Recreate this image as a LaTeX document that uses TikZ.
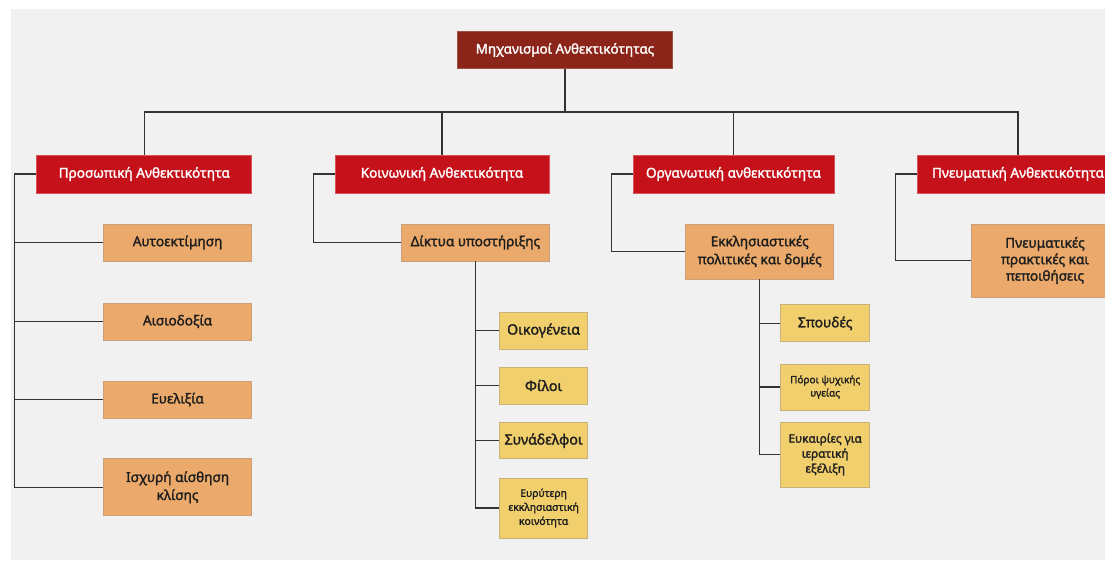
\documentclass[tikz,border=0pt]{standalone}
\usepackage{fontspec}
\setmainfont{Noto Sans}[RawFeature={embolden=1.8}]
\usetikzlibrary{calc}
\definecolor{bggray}{HTML}{F1F1F1}
\definecolor{rootred}{HTML}{8B2519}
\definecolor{lvred}{HTML}{C4111A}
\definecolor{lvredb}{HTML}{D9545A}
\definecolor{orbox}{HTML}{EBAA6B}
\definecolor{orboxb}{HTML}{C9A07A}
\definecolor{yebox}{HTML}{F1CF6D}
\definecolor{yeboxb}{HTML}{C9B27A}
\definecolor{linec}{HTML}{333333}
\definecolor{txtc}{HTML}{1E1E1E}
\tikzset{
  box/.style={rectangle, align=center, inner sep=1pt, line width=0.8pt},
  rootbox/.style={box, fill=rootred, draw=rootred!80!white, text=white, font=\fontsize{13.4}{16}\selectfont},
  lonebox/.style={box, fill=lvred, draw=lvredb, text=white, font=\fontsize{13.6}{16}\selectfont, minimum height=38},
  ltwobox/.style={box, fill=orbox, draw=orboxb, text=txtc, font=\fontsize{13.6}{18}\selectfont, minimum width=148},
  lthreebox/.style={box, fill=yebox, draw=yeboxb, text=txtc, font=\fontsize{14.2}{16}\selectfont, minimum width=88},
  conn/.style={draw=linec, line width=1.1pt}
}
\begin{document}
\begin{tikzpicture}[x=1pt,y=-1pt]
\useasboundingbox (0,0) rectangle (1105,560);
\fill[white] (0,0) rectangle (1105,560);
\fill[bggray] (11,9) rectangle (1105,560);

% root
\node[rootbox, minimum width=215, minimum height=37] (root) at (565,50) {Μηχανισμοί Ανθεκτικότητας};
\coordinate (bus) at (565,112);

% level 1
\node[lonebox, minimum width=215] (p1) at (144.3,174) {Προσωπική Ανθεκτικότητα};
\node[lonebox, minimum width=214] (p2) at (442,174) {Κοινωνική Ανθεκτικότητα};
\node[lonebox, minimum width=201] (p3) at (733.5,174) {Οργανωτική ανθεκτικότητα};
\node[lonebox, minimum width=201] (p4) at (1018,174) {Πνευματική Ανθεκτικότητα};

% level 2
\node[ltwobox, minimum height=37] (a1) at (177.6,242.5) {Αυτοεκτίμηση};
\node[ltwobox, minimum height=37] (a2) at (177.6,321.4) {Αισιοδοξία};
\node[ltwobox, minimum height=37] (a3) at (177.6,399.5) {Ευελιξία};
\node[ltwobox, minimum height=57] (a4) at (177.6,487.3) {Ισχυρή αίσθηση\\κλίσης};

\node[ltwobox, minimum height=37] (b1) at (475.4,242.5) {Δίκτυα υποστήριξης};
\node[ltwobox, minimum height=55] (c1) at (759.7,251.5) {Εκκλησιαστικές\\πολιτικές και δομές};
\node[ltwobox, minimum height=73, font=\fontsize{13.6}{16.5}\selectfont] (d1) at (1045,260.5) {Πνευματικές\\πρακτικές και\\πεποιθήσεις};

% level 3 under social
\node[lthreebox, minimum height=37] (b2) at (543.6,330.5) {Οικογένεια};
\node[lthreebox, minimum height=37] (b3) at (543.6,385.5) {Φίλοι};
\node[lthreebox, minimum height=36] (b4) at (543.6,440.7) {Συνάδελφοι};
\node[lthreebox, minimum height=60, font=\fontsize{10.4}{14}\selectfont] (b5) at (543.6,508) {Ευρύτερη\\εκκλησιαστική\\κοινότητα};

% level 3 under organisational
\node[lthreebox, minimum width=89, minimum height=37, font=\fontsize{13.8}{16}\selectfont] (c2) at (825.2,323.3) {Σπουδές};
\node[lthreebox, minimum width=89, minimum height=46, font=\fontsize{10}{13.3}\selectfont] (c3) at (825.2,387) {Πόροι ψυχικής\\υγείας};
\node[lthreebox, minimum width=89, minimum height=65, font=\fontsize{11.8}{15}\selectfont] (c4) at (825.2,454.5) {Ευκαιρίες για\\ιερατική\\εξέλιξη};

% connectors: root bus
\draw[conn] (root.south) -- (bus);
\draw[conn] (p1.north) |- (bus);
\draw[conn] (p2.north) |- (bus);
\draw[conn] (p3.north) |- (bus);
\draw[conn] (p4.north) |- (bus);

% left spines
\coordinate (s1) at ($(p1.west)+(-21.5,0)$);
\coordinate (s2) at ($(p2.west)+(-21.5,0)$);
\coordinate (s3) at ($(p3.west)+(-21.5,0)$);
\coordinate (s4) at ($(p4.west)+(-21.5,0)$);
\draw[conn] (p1.west) -- (s1) |- (a4.west);
\draw[conn] (s1) |- (a1.west);
\draw[conn] (s1) |- (a2.west);
\draw[conn] (s1) |- (a3.west);
\draw[conn] (p2.west) -- (s2) |- (b1.west);
\draw[conn] (p3.west) -- (s3) |- (c1.west);
\draw[conn] (p4.west) -- (s4) |- (d1.west);

% sub-branches
\draw[conn] (b1.south) |- (b5.west);
\draw[conn] (b1.south) |- (b2.west);
\draw[conn] (b1.south) |- (b3.west);
\draw[conn] (b1.south) |- (b4.west);
\draw[conn] (c1.south) |- (c4.west);
\draw[conn] (c1.south) |- (c2.west);
\draw[conn] (c1.south) |- (c3.west);
\end{tikzpicture}
\end{document}
